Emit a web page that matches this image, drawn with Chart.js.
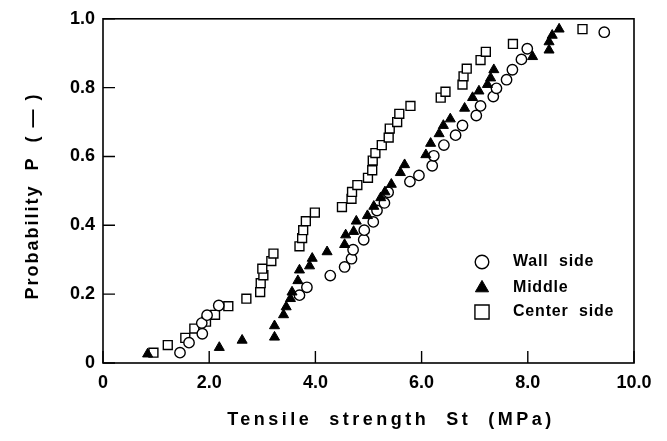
<!DOCTYPE html>
<html>
<head>
<meta charset="utf-8">
<script src="https://cdn.jsdelivr.net/npm/chart.js@4.4.1/dist/chart.umd.min.js"></script>
<style>
  html, body { margin: 0; padding: 0; background: #fff; }
  #wrap { width: 667px; height: 441px; }
</style>
</head>
<body>
<div id="wrap"><canvas id="c" width="667" height="441"></canvas></div>
<script>
// ---- data ----
const xTickLabels = ['0', '2.0', '4.0', '6.0', '8.0', '10.0'];
const yTickLabels = ['0', '0.2', '0.4', '0.6', '0.8', '1.0'];
const seriesNames = ['Wall  side', 'Middle', 'Center  side'];

const wallX = [1.45, 1.62, 1.87, 1.86, 1.96, 2.18, 3.70, 3.84, 4.28, 4.55, 4.68, 4.71, 4.91, 4.92, 5.09, 5.16, 5.30, 5.37, 5.78, 5.95, 6.20, 6.23, 6.42, 6.64, 6.77, 7.03, 7.11, 7.35, 7.41, 7.60, 7.71, 7.88, 7.99, 9.44];
const wallP = [0.030, 0.059, 0.085, 0.116, 0.139, 0.167, 0.197, 0.220, 0.254, 0.279, 0.303, 0.329, 0.358, 0.386, 0.410, 0.443, 0.465, 0.496, 0.527, 0.545, 0.573, 0.602, 0.633, 0.662, 0.690, 0.719, 0.747, 0.774, 0.798, 0.823, 0.852, 0.882, 0.913, 0.961];

const middleX = [0.84, 2.19, 2.62, 3.23, 3.23, 3.40, 3.45, 3.53, 3.56, 3.67, 3.70, 3.89, 3.94, 4.22, 4.55, 4.57, 4.72, 4.77, 4.98, 5.10, 5.23, 5.31, 5.43, 5.60, 5.68, 6.08, 6.17, 6.33, 6.41, 6.54, 6.81, 6.96, 7.08, 7.24, 7.30, 7.36, 8.09, 8.40, 8.40, 8.46, 8.59];
const middleP = [0.026, 0.045, 0.066, 0.075, 0.108, 0.140, 0.163, 0.187, 0.206, 0.239, 0.270, 0.282, 0.304, 0.323, 0.344, 0.372, 0.382, 0.412, 0.428, 0.455, 0.480, 0.497, 0.519, 0.553, 0.576, 0.605, 0.638, 0.666, 0.690, 0.709, 0.740, 0.771, 0.790, 0.809, 0.828, 0.852, 0.890, 0.909, 0.933, 0.952, 0.970];

const centerX = [0.95, 1.22, 1.55, 1.72, 1.94, 2.11, 2.36, 2.70, 2.96, 2.97, 3.02, 3.00, 3.17, 3.21, 3.70, 3.75, 3.77, 3.82, 3.99, 4.50, 4.68, 4.69, 4.79, 4.99, 5.07, 5.08, 5.13, 5.25, 5.38, 5.40, 5.54, 5.58, 5.79, 6.36, 6.45, 6.77, 6.79, 6.85, 7.11, 7.21, 7.72, 9.03];
const centerP = [0.030, 0.052, 0.073, 0.100, 0.120, 0.140, 0.165, 0.187, 0.206, 0.232, 0.255, 0.274, 0.296, 0.318, 0.339, 0.363, 0.386, 0.412, 0.437, 0.453, 0.477, 0.497, 0.517, 0.538, 0.560, 0.588, 0.610, 0.633, 0.655, 0.681, 0.700, 0.724, 0.747, 0.771, 0.788, 0.809, 0.833, 0.855, 0.880, 0.904, 0.927, 0.970];

const toPts = (xs, ys) => xs.map((x, i) => ({ x: x, y: ys[i] }));

const FONT = "'Liberation Sans', Arial, Helvetica, sans-serif";

const wallDs = { label: seriesNames[0], data: toPts(wallX, wallP), pointStyle: 'circle', pointRadius: 5.2, backgroundColor: '#fff', borderColor: '#000', borderWidth: 1.4 };
const middleDs = { label: seriesNames[1], data: toPts(middleX, middleP), pointStyle: 'triangle', pointRadius: 5.8, backgroundColor: '#000', borderColor: '#000', borderWidth: 1 };
const centerDs = { label: seriesNames[2], data: toPts(centerX, centerP), pointStyle: 'rect', pointRadius: 6.3, backgroundColor: '#fff', borderColor: '#000', borderWidth: 1.4 };

const framePlugin = {
  id: 'frame',
  afterDraw(chart) {
    const { ctx, chartArea: a, scales } = chart;
    ctx.save();
    ctx.strokeStyle = '#000';
    ctx.lineWidth = 1.6;
    ctx.strokeRect(a.left, a.top, a.right - a.left, a.bottom - a.top);
    ctx.lineWidth = 1.4;
    ctx.beginPath();
    scales.x.ticks.forEach(t => {
      const px = scales.x.getPixelForValue(t.value);
      ctx.moveTo(px, a.bottom); ctx.lineTo(px, a.bottom - 12);
    });
    scales.y.ticks.forEach(t => {
      const py = scales.y.getPixelForValue(t.value);
      ctx.moveTo(a.left, py); ctx.lineTo(a.left + 12, py);
    });
    ctx.stroke();

    // axis titles
    ctx.fillStyle = '#000';
    ctx.textBaseline = 'middle';
    ctx.textAlign = 'center';
    ctx.font = "bold 18px " + FONT;
    try { ctx.letterSpacing = '3.5px'; } catch (e) {}
    ctx.fillText('Tensile  strength  St  (MPa)', 391, 420);
    ctx.save();
    ctx.translate(33, 196);
    ctx.rotate(-Math.PI / 2);
    try { ctx.letterSpacing = '2px'; } catch (e) {}
    ctx.fillText('Probability  P  ( \u2014 )', 0, 0);
    ctx.restore();

    // legend
    const items = [wallDs, middleDs, centerDs];
    const legY = [262, 288, 312];
    const legR = [6.8, 7.6, 10];
    ctx.font = "bold 16px " + FONT;
    ctx.textAlign = 'left';
    try { ctx.letterSpacing = '0.8px'; } catch (e) {}
    items.forEach((ds, i) => {
      ctx.fillStyle = ds.backgroundColor;
      ctx.strokeStyle = ds.borderColor;
      ctx.lineWidth = ds.borderWidth;
      Chart.helpers.drawPoint(ctx, { pointStyle: ds.pointStyle, radius: legR[i], rotation: 0, borderWidth: ds.borderWidth }, 482, legY[i]);
      ctx.fillStyle = '#000';
      ctx.fillText(ds.label, 513, legY[i]);
    });
    ctx.restore();
  }
};

new Chart(document.getElementById('c'), {
  type: 'scatter',
  data: { datasets: [middleDs, wallDs, centerDs] },
  options: {
    responsive: false,
    animation: false,
    layout: { padding: { left: 0, right: 33, top: 12, bottom: 0 } },
    plugins: { legend: { display: false }, tooltip: { enabled: false } },
    scales: {
      x: {
        type: 'linear', min: 0, max: 10,
        ticks: { stepSize: 2, maxRotation: 0, color: '#000', padding: 9,
                 font: { family: FONT, size: 18, weight: 'bold' },
                 callback: (v, i) => xTickLabels[i] },
        grid: { display: false, drawTicks: false },
        border: { display: false },
        afterFit: s => { s.height = 78; }
      },
      y: {
        type: 'linear', min: 0, max: 1,
        ticks: { stepSize: 0.2, color: '#000', padding: 8,
                 font: { family: FONT, size: 18, weight: 'bold' },
                 callback: (v, i) => yTickLabels[i] },
        grid: { display: false, drawTicks: false },
        border: { display: false },
        afterFit: s => { s.width = 103; }
      }
    }
  },
  plugins: [framePlugin]
});
</script>
</body>
</html>
